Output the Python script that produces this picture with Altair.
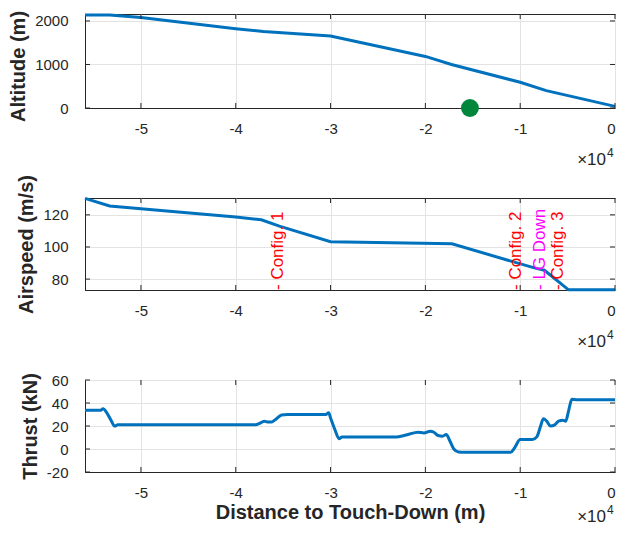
import altair as alt
import pandas as pd

# ---------------- data ----------------
x_ticks = [-50000, -40000, -30000, -20000, -10000, 0]
x_min = -55900

alt_dist = [-55900, -53300, -50000, -40000, -37100, -30000, -20000, -17250, -10000, -7250, 0]
alt_vals = [2137, 2137, 2077, 1823, 1760, 1654, 1185, 1000, 592, 400, 38]
alt_ticks = [0, 1000, 2000]
alt_domain = [0, 2160]
marker_dist = [-15300]
marker_alt = [0]

spd_dist = [-55900, -53300, -50000, -40000, -37300, -35400, -30000, -17200, -10800, -8500, -7450, -4900, 0]
spd_vals = [130.3, 125.5, 123.8, 118.6, 116.9, 113.0, 103.3, 102.0, 90.9, 87.0, 85.5, 73.3, 73.3]
spd_ticks = [80, 100, 120]
spd_domain = [73.2, 130.5]

event_dist = [-35550, -10450, -7950, -6050]
event_text = ["- Config. 1", "- Config. 2", "- LG Down", "- Config. 3"]
event_color = ["#FF0000", "#FF0000", "#FF00FF", "#FF0000"]

thr_dist = [-55900, -54240, -54000, -53600, -53200, -52750, -52450, -38350, -37900, -37500,
            -37000, -36570, -36230, -35800, -35170, -34530, -30500, -30200, -30000, -29550,
            -29100, -28800, -23100, -22250, -21200, -20800, -20150, -19500, -19100, -18650,
            -18200, -17800, -17400, -17000, -16500, -15900, -11650, -11000, -10600, -10000,
            -9300, -8700, -8250, -7850, -7550, -7200, -6800, -6350, -5950, -5500,
            -5200, -4900, -4550, -4000, 0]
thr_vals = [33.6, 33.6, 35.0, 31.5, 25.7, 19.9, 21.0, 21.0, 21.0, 22.2,
            24.2, 23.4, 23.4, 25.7, 29.5, 30.0, 30.0, 31.5, 27.0, 17.0,
            9.0, 10.5, 10.5, 11.7, 14.0, 14.6, 14.0, 15.5, 14.6, 11.7,
            11.1, 12.6, 6.7, 0.0, -2.6, -2.9, -2.9, -2.9, 0.9, 8.2,
            8.2, 8.2, 10.5, 19.9, 26.3, 24.2, 19.9, 21.0, 24.2, 25.0,
            24.2, 33.0, 43.2, 42.9, 42.9]
thr_ticks = [-20, 0, 20, 40, 60]
thr_domain = [-20, 60]

# ---------------- style ----------------
W = 530
BLUE = "#0072BD"
FRAME = "#262626"
FONT = "Liberation Sans"


def panel(df_line, ydom, yticks, ytitle, H, xtitle=None, extra=(), interp="linear",
          title_y=None, exp_off=57):
    xs = alt.Scale(domain=[x_min, 0], nice=False, zero=False)
    ys = alt.Scale(domain=ydom, nice=False, zero=False)
    x = alt.X("x:Q", scale=xs, title=xtitle,
              axis=alt.Axis(values=x_ticks, labelExpr="'' + datum.value/10000",
                            ticks=False, labelPadding=13, titlePadding=2))
    yaxis_kw = dict(values=yticks, labelExpr="'' + datum.value",
                    ticks=False, labelPadding=17, titlePadding=6)
    if title_y is not None:
        yaxis_kw["titleY"] = title_y
    y = alt.Y("y:Q", scale=ys, title=ytitle, axis=alt.Axis(**yaxis_kw))
    line = alt.Chart(df_line).mark_line(color=BLUE, strokeWidth=3, interpolate=interp).encode(x=x, y=y)
    xt = pd.DataFrame({"x": x_ticks})
    yt = pd.DataFrame({"y": yticks})
    bt = alt.Chart(xt).mark_rule(color=FRAME, strokeWidth=1).encode(x=x, y=alt.value(H), y2=alt.value(H - 5))
    tt = alt.Chart(xt).mark_rule(color=FRAME, strokeWidth=1).encode(x=x, y=alt.value(0), y2=alt.value(5))
    lt = alt.Chart(yt).mark_rule(color=FRAME, strokeWidth=1).encode(y=y, x=alt.value(0), x2=alt.value(5))
    rt = alt.Chart(yt).mark_rule(color=FRAME, strokeWidth=1).encode(y=y, x=alt.value(W), x2=alt.value(W - 5))
    exp_df = pd.DataFrame({"t": ["×10"], "s": ["4"]})
    e1 = alt.Chart(exp_df).mark_text(font=FONT, fontSize=17, align="right", baseline="alphabetic",
                                     color=FRAME).encode(text="t:N", x=alt.value(W - 9), y=alt.value(H + exp_off))
    e2 = alt.Chart(exp_df).mark_text(font=FONT, fontSize=12, align="left", baseline="alphabetic",
                                     color=FRAME).encode(text="s:N", x=alt.value(W - 8), y=alt.value(H + exp_off - 8))
    layers = [line, bt, tt, lt, rt, e1, e2]
    for f in extra:
        layers.append(f(x, y))
    return alt.layer(*layers).properties(width=W, height=H)


df_alt = pd.DataFrame({"x": alt_dist, "y": alt_vals})
df_spd = pd.DataFrame({"x": spd_dist, "y": spd_vals})
df_thr = pd.DataFrame({"x": thr_dist, "y": thr_vals})

df_mark = pd.DataFrame({"x": marker_dist, "y": marker_alt})
df_evt = pd.DataFrame({"x": event_dist, "y": [spd_domain[0]] * len(event_dist),
                       "t": event_text, "c": event_color})


def marker(x, y):
    return alt.Chart(df_mark).mark_circle(size=320, color="#00873C", opacity=1).encode(x=x, y=y)


def events(x, y):
    return alt.Chart(df_evt).mark_text(font=FONT, fontSize=17, angle=270, align="left",
                                       baseline="middle").encode(
        x=x, y=y, text="t:N", color=alt.Color("c:N", scale=None))


p1 = panel(df_alt, alt_domain, alt_ticks, "Altitude (m)", 94, extra=(marker,), title_y=52)
p2 = panel(df_spd, spd_domain, spd_ticks, "Airspeed (m/s)", 92, extra=(events,))
p3 = panel(df_thr, thr_domain, thr_ticks, "Thrust (kN)", 92, xtitle="Distance to Touch-Down (m)",
           interp="monotone", exp_off=50)

chart = alt.vconcat(p1, p2, p3, spacing=90, bounds="flush").properties(
    padding={"left": 0, "top": 0, "right": 0, "bottom": 0}
).configure_view(
    stroke=FRAME, strokeWidth=1
).configure_axis(
    labelFont=FONT, labelFontSize=15, labelColor=FRAME,
    titleFont=FONT, titleFontSize=20, titleFontWeight="bold", titleColor=FRAME,
    gridColor="#e3e3e3", domainColor=FRAME, domainWidth=1
)

chart.save("out.html", embed_options={"renderer": "svg", "actions": False})
